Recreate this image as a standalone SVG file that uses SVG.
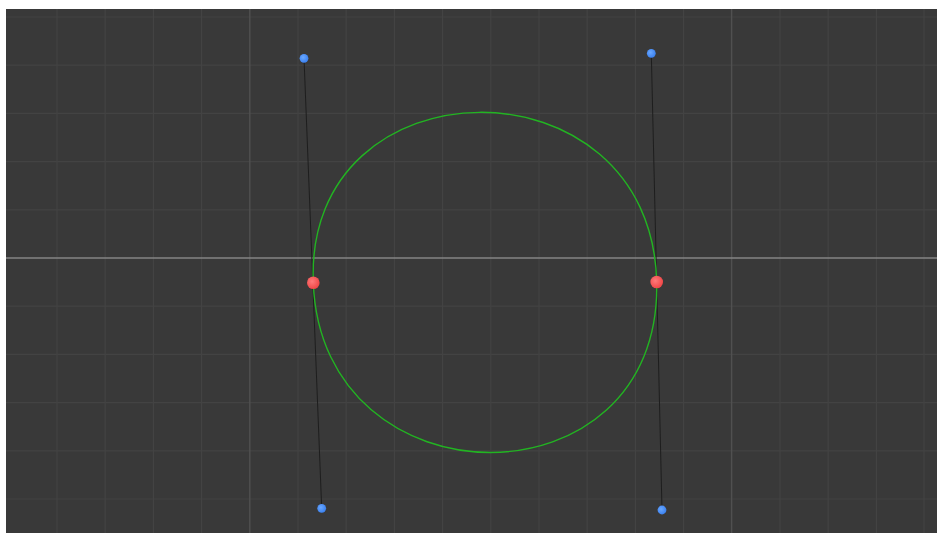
<svg xmlns="http://www.w3.org/2000/svg" width="937" height="533" viewBox="0 0 937 533">
<defs>
<radialGradient id="gRed" cx="0.4" cy="0.4" r="0.6">
<stop offset="0" stop-color="#ff7a7a"/>
<stop offset="1" stop-color="#f04848"/>
</radialGradient>
<radialGradient id="gBlue" cx="0.4" cy="0.4" r="0.6">
<stop offset="0" stop-color="#6aa8ff"/>
<stop offset="1" stop-color="#3c82f0"/>
</radialGradient>
<style>
.grid{stroke:#434343;stroke-width:1.2;fill:none}
.major{stroke:#505050;stroke-width:1.4;fill:none}
.axis{stroke:#858585;stroke-width:1.3;fill:none}
.handle{stroke:#1e1e1e;stroke-width:1;fill:none}
.curve{stroke:#22b422;stroke-width:1.4;fill:none}
.anchor{fill:url(#gRed)}
.ctrl{fill:url(#gBlue)}
</style>
</defs>
<rect x="0" y="0" width="937" height="533" fill="#ffffff"/>
<rect x="6" y="9" width="931" height="524" fill="#393939"/>
<g id="grid">
<path class="grid" d="M6 17H937M6 65.2H937M6 113.4H937M6 161.6H937M6 209.8H937M6 306.2H937M6 354.4H937M6 402.6H937M6 450.8H937M6 499H937"/>
<path class="grid" d="M57 9V533M105.2 9V533M153.4 9V533M201.6 9V533M298 9V533M346.2 9V533M394.4 9V533M442.6 9V533M490.8 9V533M539 9V533M587.2 9V533M635.4 9V533M683.6 9V533M780 9V533M828.2 9V533M876.4 9V533M924 9V533"/>
<path class="major" d="M249.8 9V533M731.6 9V533"/>
<path class="axis" d="M6 258H937"/>
</g>
<g id="connectors">
<line class="handle" x1="304" y1="58" x2="321.7" y2="508.3"/>
<line class="handle" x1="651.3" y1="53.3" x2="662" y2="510"/>
<path class="curve" d="M313.3 282.7C304 58 651.3 53.3 656.7 282C662 510 321.7 508.3 313.3 282.7Z"/>
</g>
<g id="anchor-left"><circle class="anchor" cx="313.3" cy="282.7" r="6.3"/></g>
<g id="anchor-right"><circle class="anchor" cx="656.7" cy="282" r="6.3"/></g>
<g id="ctrl-left-top"><circle class="ctrl" cx="304" cy="58.3" r="4.4"/></g>
<g id="ctrl-left-bottom"><circle class="ctrl" cx="321.7" cy="508.3" r="4.4"/></g>
<g id="ctrl-right-top"><circle class="ctrl" cx="651.3" cy="53.3" r="4.4"/></g>
<g id="ctrl-right-bottom"><circle class="ctrl" cx="662" cy="510" r="4.4"/></g>
</svg>
